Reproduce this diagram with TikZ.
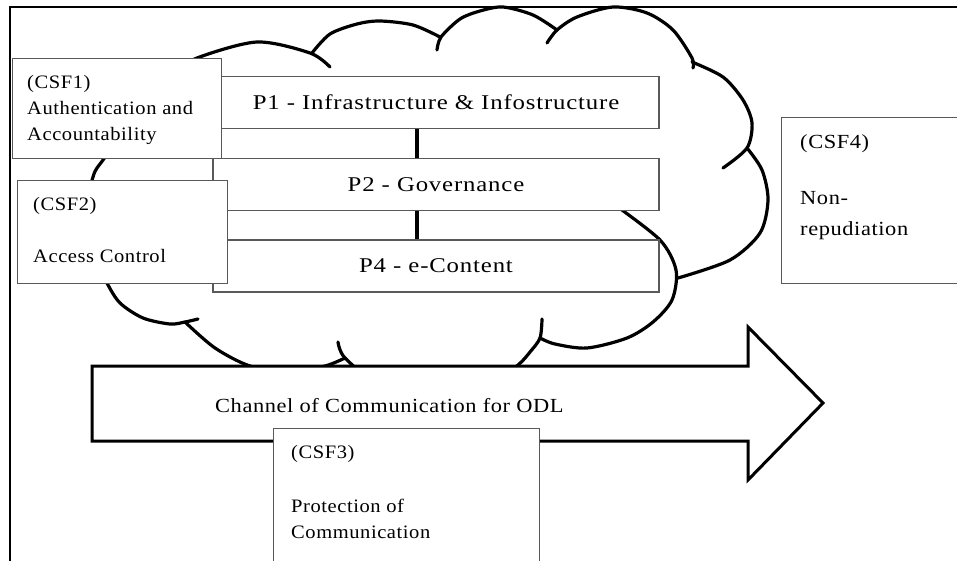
\documentclass[tikz,border=0pt]{standalone}
\usepackage{fontspec}
\setmainfont{Liberation Serif}[FakeStretch=1.18,LetterSpace=4]
\newfontfamily\csffont{Liberation Serif}[FakeStretch=1.08,LetterSpace=3]
\newfontfamily\chanfont{Liberation Serif}[FakeStretch=1.12,LetterSpace=3]
\usepackage{tikz}
\usetikzlibrary{arrows.meta}

\begin{document}
\begin{tikzpicture}[x=1pt,y=-1pt,
    csfbox/.style={draw=black!65, line width=1.4pt, fill=white, anchor=north west, inner sep=0pt},
    pbox/.style={draw=black!65, line width=1.4pt, fill=white, minimum width=446pt, minimum height=52pt, inner sep=0pt, font=\fontsize{21}{26}\selectfont},
    csftext/.style={anchor=north west, align=left, inner sep=0pt, font=\csffont\fontsize{19}{26}\selectfont},
    bigtext/.style={csftext, font=\chanfont\fontsize{20}{26}\selectfont},
    bump/.style={line width=3.2pt, line cap=round},
    link/.style={line width=4pt}]
    \clip (0,0) rectangle (957,560);
    \fill[white] (0,0) rectangle (957,560);
    \draw[line width=2pt] (10,570) -- (10,7) -- (970,7);

    \draw[bump] plot[smooth] coordinates {(110,270) (84,225) (93,177) (103,160) (130,125)};
    \draw[bump] plot[smooth] coordinates {(170,75) (197,58) (257,42) (310,53) (330,67)};
    \draw[bump] plot[smooth] coordinates {(312,53) (330,34) (357,24) (380,21) (413,25) (440,37)};
    \draw[bump] plot[smooth] coordinates {(437,50) (441,37) (460,19) (480,11) (503,7) (533,15) (557,30)};
    \draw[bump] plot[smooth] coordinates {(547,43) (557,30) (577,17) (613,7) (647,13) (673,30) (692,58) (693,68)};
    \draw[bump] plot[smooth] coordinates {(692,62) (723,77) (743,100) (752,123) (747,148) (723,168)};
    \draw[bump] plot[smooth] coordinates {(747,148) (762,170) (768,200) (760,233) (730,260) (678,278)};
    \draw[bump] plot[smooth] coordinates {(615,205) (660,240) (676,270) (672,300) (653,322) (627,338) (587,348) (555,344) (540,338)};
    \draw[bump] plot[smooth] coordinates {(338,342) (345,358) (380,385) (430,395) (490,385) (518,365) (530,352) (540,338) (542,319)};
    \draw[bump] plot[smooth] coordinates {(185,322) (215,348) (250,366) (290,372) (325,366) (345,358)};
    \draw[bump] plot[smooth] coordinates {(100,265) (107,283) (120,303) (143,318) (170,324) (185,322) (198,319)};

    \node[pbox] (p1) at (436,102.5) {P1 - Infrastructure \& Infostructure};
    \node[pbox] (p2) at (436,184.5) {P2 - Governance};
    \node[pbox] (p4) at (436,266) {P4 - e-Content};
    \draw[link] ([xshift=-19pt]p1.south) -- ([xshift=-19pt]p2.north);
    \draw[link] ([xshift=-19pt]p2.south) -- ([xshift=-19pt]p4.north);

    \node[csfbox, minimum width=209pt, minimum height=100pt] (csf1) at (12,58) {};
    \node[csftext] (csf1txt) at (27,75) {(CSF1)\\Authentication and\\Accountability};
    \node[csfbox, minimum width=210pt, minimum height=103pt] (csf2) at (17,180) {};
    \node[csftext] (csf2txt) at (33,197) {(CSF2)\\[26pt]Access Control};

    \draw[line width=3pt, fill=white, line join=miter] (92,366) -- (748,366) -- (748,327) -- (823,403)
        -- (748,480) -- (748,441) -- (92,441) -- cycle;
    \node[bigtext, anchor=base west] (chan) at (215,412) {Channel of Communication for ODL};

    \node[csfbox, minimum width=266pt, minimum height=150pt] (csf3) at (273,428) {};
    \node[csftext] (csf3txt) at (291,445) {(CSF3)\\[28pt]Protection of\\Communication};
    \node[csfbox, minimum width=200pt, minimum height=166pt] (csf4) at (781,117) {};
    \node[bigtext] (csf4txt) at (800,134) {(CSF4)\\[30pt]Non-\\[5pt]repudiation};
\end{tikzpicture}
\end{document}
